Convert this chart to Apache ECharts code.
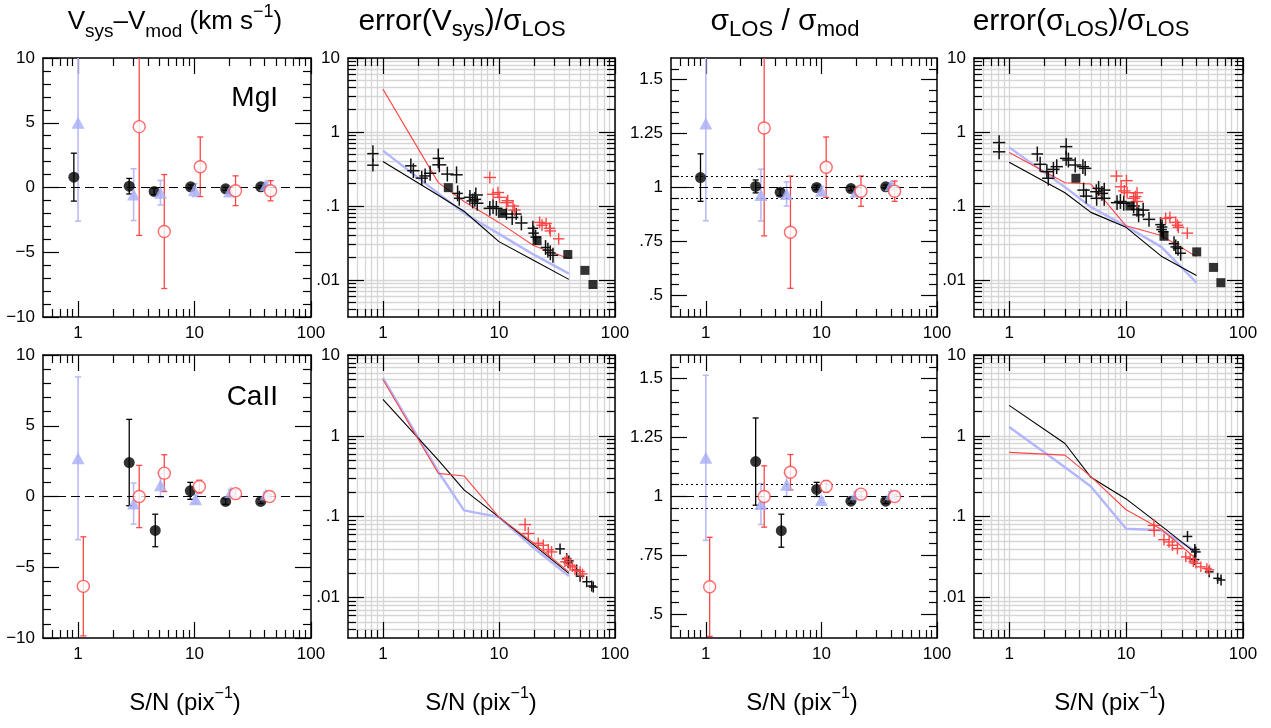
<!DOCTYPE html>
<html><head><meta charset="utf-8">
<script src="https://cdn.jsdelivr.net/npm/echarts@6/dist/echarts.min.js"></script>
<style>html,body{margin:0;padding:0;background:#fff}#c{width:1271px;height:728px}</style>
</head><body><div id="c"></div>
<script>
// ---------------- tick labels ----------------
const xTickLabels = [1, 10, 100];
const logYTickLabels = [0.01, 0.1, 1, 10];
const vsysTickLabels = [-10, -5, 0, 5, 10];
const sigTickLabels = [0.5, 0.75, 1, 1.25, 1.5];
const panelTitles = ['{n|V}{s|sys}{n|–V}{s|mod}{n| (km s}{p|−1}{n|)}', '{N|error(V}{S|sys}{N|)/σ}{S|LOS}', '{N|σ}{S|LOS}{N| / σ}{S|mod}', '{N|error(σ}{S|LOS}{N|)/σ}{S|LOS}'];
const xTitle = '{n|S/N (pix}{p|−1}{n|)}';
const lineNames = ['MgI', 'CaII'];

// ---------------- binned points: V_sys - V_mod ----------------
const mgVsysBlackSN = [0.92, 2.75, 4.5, 9.25, 18.5, 37];
const mgVsysBlackVal = [0.8, 0.1, -0.3, 0.05, -0.1, 0.05];
const mgVsysBlackErr = [1.85, 0.6, 0.25, 0.15, 0.12, 0.1];
const mgVsysBlueSN = [1.0, 3.0, 5.1, 10, 20, 41];
const mgVsysBlueVal = [5.0, -0.55, -0.4, -0.2, -0.3, 0.2];
const mgVsysBlueErr = [7.6, 2.0, 0.95, 0.5, 0.3, 0.2];
const mgVsysRedSN = [3.35, 5.5, 11.2, 22.5, 45];
const mgVsysRedVal = [4.7, -3.4, 1.6, -0.25, -0.25];
const mgVsysRedErr = [8.4, 4.4, 2.3, 1.15, 0.78];

const caVsysBlackSN = [2.75, 4.6, 9.2, 18.5, 37];
const caVsysBlackVal = [2.4, -2.4, 0.4, -0.35, -0.35];
const caVsysBlackErr = [3.05, 1.15, 0.6, 0.2, 0.15];
const caVsysBlueSN = [1.0, 3.0, 5.1, 10.2, 20.5, 41];
const caVsysBlueVal = [2.7, -0.5, 0.8, -0.2, 0.3, 0.15];
const caVsysBlueErr = [5.75, 1.45, 0.85, 0.3, 0.2, 0.15];
const caVsysRedSN = [1.11, 3.35, 5.5, 11, 22.5, 44];
const caVsysRedVal = [-6.35, 0.0, 1.65, 0.7, 0.2, 0.0];
const caVsysRedErr = [3.5, 2.2, 1.3, 0.45, 0.3, 0.15];

// ---------------- binned points: sigma_LOS / sigma_mod ----------------
const mgSigBlackSN = [0.9, 2.7, 4.4, 9.1, 18, 36];
const mgSigBlackVal = [1.046, 1.005, 0.978, 1.0, 0.995, 1.003];
const mgSigBlackErr = [0.11, 0.03, 0.015, 0.01, 0.01, 0.008];
const mgSigBlueSN = [1.0, 3.0, 5.0, 10, 20, 40];
const mgSigBlueVal = [1.296, 0.965, 0.97, 0.985, 0.98, 1.01];
const mgSigBlueErr = [0.45, 0.12, 0.056, 0.02, 0.015, 0.01];
const mgSigRedSN = [3.2, 5.4, 11, 22, 43];
const mgSigRedVal = [1.276, 0.793, 1.094, 0.983, 0.983];
const mgSigRedErr = [0.5, 0.26, 0.14, 0.07, 0.047];

const caSigBlackSN = [2.7, 4.5, 9.1, 18, 36];
const caSigBlackVal = [1.148, 0.855, 1.03, 0.98, 0.98];
const caSigBlackErr = [0.185, 0.07, 0.03, 0.01, 0.01];
const caSigBlueSN = [1.0, 3.0, 5.0, 10, 20, 40];
const caSigBlueVal = [1.164, 0.968, 1.05, 0.985, 1.01, 1.01];
const caSigBlueErr = [0.35, 0.087, 0.05, 0.01, 0.01, 0.01];
const caSigRedSN = [1.08, 3.2, 5.4, 11, 22, 43];
const caSigRedVal = [0.617, 1.0, 1.103, 1.043, 1.01, 1.0];
const caSigRedErr = [0.21, 0.13, 0.075, 0.025, 0.012, 0.008];

const vsysRefLevel = [0];
const sigRefLevel = [1];
const sigTolerance = [0.95, 1.05];

// ---------------- model curves (error / sigma) ----------------
const lineSN = [1, 3, 5, 10, 20, 40];
const mgEVsysRedLine = [3.8, 0.207, 0.115, 0.06, 0.029, 0.0195];
const mgEVsysBlueLine = [0.56, 0.148, 0.08, 0.042, 0.022, 0.0122];
const mgEVsysBlackLine = [0.40, 0.14, 0.085, 0.033, 0.0183, 0.0102];
const mgESigRedLine = [0.53, 0.206, 0.198, 0.054, 0.04, 0.0207];
const mgESigBlueLine = [0.62, 0.18, 0.097, 0.053, 0.028, 0.0092];
const mgESigBlackLine = [0.39, 0.151, 0.082, 0.0515, 0.021, 0.0115];
const caEVsysRedLine = [4.98, 0.344, 0.319, 0.099, 0.047, 0.0208];
const caEVsysBlueLine = [5.2, 0.36, 0.12, 0.099, 0.041, 0.0184];
const caEVsysBlackLine = [2.83, 0.5, 0.215, 0.099, 0.0445, 0.0199];
const caESigRedLine = [0.624, 0.578, 0.313, 0.122, 0.07, 0.03];
const caESigBlueLine = [1.29, 0.41, 0.236, 0.071, 0.068, 0.037];
const caESigBlackLine = [2.38, 0.805, 0.307, 0.166, 0.077, 0.035];

// ---------------- individual measurements (crosses: value, fractional x/y errors) ----------------
const mgEVsysBlackX = [0.82,0.82,1.74,1.83,2.16,2.31,2.55,3.0,3.06,3.59,4.31,4.4,4.55,5.62,5.93,6.32,6.5,6.2,8.34,8.9,9.5,11.6,13.0,14.1,15.6,19.6,19.9,20.7,25.2,26.4,27.7,29.2];
const mgEVsysBlackY = [0.51,0.356,0.349,0.30,0.238,0.255,0.277,0.44,0.36,0.27,0.264,0.148,0.127,0.131,0.117,0.141,0.109,0.123,0.093,0.098,0.093,0.078,0.070,0.078,0.059,0.050,0.043,0.038,0.0275,0.0253,0.0233,0.0216];
const mgEVsysBlackEX = [0.12,0.12,0.12,0.13,0.13,0.12,0.13,0.12,0.15,0.13,0.13,0.11,0.11,0.13,0.13,0.15,0.13,0.13,0.13,0.13,0.13,0.13,0.13,0.11,0.13,0.11,0.11,0.11,0.1,0.11,0.11,0.11];
const mgEVsysBlackEY = [0.3,0.22,0.26,0.26,0.26,0.26,0.26,0.36,0.26,0.26,0.3,0.28,0.26,0.26,0.26,0.26,0.26,0.26,0.26,0.26,0.26,0.2,0.26,0.2,0.26,0.26,0.26,0.26,0.26,0.26,0.26,0.26];
const mgEVsysRedX = [8.34,8.9,9.8,10.1,11.6,11.9,13.2,13.6,22.4,23.5,25.5,27.3,27.7,32.7];
const mgEVsysRedY = [0.243,0.144,0.152,0.131,0.111,0.118,0.100,0.088,0.060,0.055,0.058,0.050,0.046,0.036];
const mgEVsysRedEX = [0.13,0.13,0.13,0.13,0.13,0.13,0.13,0.13,0.12,0.12,0.12,0.12,0.12,0.12];
const mgEVsysRedEY = [0.2,0.2,0.2,0.2,0.2,0.2,0.2,0.2,0.2,0.2,0.2,0.2,0.2,0.2];
const mgEVsysSquareX = [3.66, 10.7, 21.3, 39.2, 55, 64.6];
const mgEVsysSquareY = [0.177, 0.0795, 0.034, 0.0221, 0.0135, 0.0087];

const mgESigBlackX = [0.82,0.82,1.74,1.84,2.1,2.16,2.39,2.55,3.07,3.07,3.21,3.67,4.27,4.47,4.33,4.56,5.56,5.82,6.22,6.5,5.6,6.5,8.37,8.94,9.55,11.6,12.4,12.8,14.0,15.7,19.7,20.1,20.8,20.3,25.7,26.6,27.8,29.3];
const mgESigBlackY = [0.72,0.54,0.505,0.366,0.291,0.237,0.313,0.34,0.634,0.44,0.418,0.358,0.34,0.323,0.164,0.136,0.156,0.173,0.148,0.164,0.127,0.127,0.111,0.115,0.109,0.10,0.090,0.076,0.088,0.066,0.056,0.048,0.045,0.052,0.031,0.028,0.0268,0.023];
const mgESigBlackEX = [0.13,0.13,0.12,0.13,0.13,0.13,0.13,0.13,0.13,0.13,0.13,0.13,0.13,0.13,0.13,0.13,0.13,0.13,0.13,0.13,0.13,0.13,0.13,0.13,0.13,0.13,0.13,0.13,0.13,0.13,0.11,0.11,0.11,0.11,0.11,0.11,0.11,0.11];
const mgESigBlackEY = [0.26,0.26,0.26,0.26,0.26,0.26,0.26,0.26,0.3,0.26,0.26,0.26,0.26,0.26,0.26,0.26,0.26,0.26,0.26,0.26,0.26,0.26,0.26,0.26,0.26,0.26,0.26,0.26,0.26,0.26,0.26,0.26,0.26,0.26,0.26,0.26,0.26,0.26];
const mgESigRedX = [8.27,10.07,9.06,9.65,10.2,12.4,12.0,11.6,12.4,21.8,23.7,26.6,27.5,28,33.4];
const mgESigRedY = [0.254,0.22,0.182,0.16,0.151,0.151,0.134,0.127,0.115,0.068,0.070,0.060,0.055,0.0515,0.043];
const mgESigRedEX = [0.13,0.13,0.13,0.13,0.13,0.13,0.13,0.13,0.13,0.12,0.12,0.12,0.12,0.12,0.12];
const mgESigRedEY = [0.2,0.2,0.2,0.2,0.2,0.2,0.2,0.2,0.2,0.2,0.2,0.2,0.2,0.2,0.2];
const mgESigSquareX = [3.72, 10.8, 21.1, 40.2, 56, 64.7];
const mgESigSquareY = [0.237, 0.10, 0.039, 0.024, 0.0148, 0.0092];

const caEVsysRedX = [16.8,17.9,21.8,24.1,26.6,28.4,37,38.5,41,43,45.2,50,52.5];
const caEVsysRedY = [0.080,0.062,0.047,0.0444,0.039,0.0367,0.0277,0.030,0.0252,0.024,0.0219,0.021,0.0196];
const caEVsysRedEX = [0.13,0.13,0.12,0.12,0.12,0.12,0.1,0.1,0.1,0.1,0.1,0.1,0.1];
const caEVsysRedEY = [0.2,0.2,0.18,0.18,0.18,0.18,0.16,0.16,0.16,0.16,0.16,0.16,0.16];
const caEVsysBlackX = [33.6,38.3,40,39.5,46.7,50,57,63,65];
const caEVsysBlackY = [0.040,0.0304,0.0284,0.027,0.0219,0.0184,0.0157,0.0139,0.0135];
const caEVsysBlackEX = [0.1,0.1,0.1,0.1,0.09,0.09,0.09,0.09,0.09];
const caEVsysBlackEY = [0.17,0.17,0.17,0.17,0.17,0.17,0.17,0.17,0.17];

const caESigRedX = [17.3,17.4,21.1,23.3,24.9,27.5,32.4,35.3,37.6,39.5,43.6,49.1,51.7];
const caESigRedY = [0.078,0.068,0.052,0.0487,0.0444,0.0404,0.0318,0.0304,0.0277,0.0265,0.024,0.0229,0.022];
const caESigRedEX = [0.13,0.13,0.12,0.12,0.12,0.12,0.1,0.1,0.1,0.1,0.1,0.1,0.1];
const caESigRedEY = [0.2,0.2,0.18,0.18,0.18,0.18,0.16,0.16,0.16,0.16,0.16,0.16,0.16];
const caESigBlackX = [33.5,38.7,39.5,38.5,51.4,60.7,64.9];
const caESigBlackY = [0.057,0.0393,0.0367,0.0295,0.0208,0.0173,0.0165];
const caESigBlackEX = [0.1,0.1,0.1,0.1,0.09,0.09,0.09];
const caESigBlackEY = [0.17,0.17,0.17,0.17,0.17,0.17,0.17];

// ---------------- styling / layout ----------------
const FONT = '"Liberation Sans", Arial, Helvetica, sans-serif';
const RED = '#ff4646', BLUE_PT = '#a9aef6', BLUE_LINE = '#b3b6fc', BLUE_ERR = '#b8bcf6', GRIDC = '#d6d6d6';
const rowsL = [{ top: 58, height: 259 }, { top: 355, height: 283 }];
const colsL = [{ left: 43, width: 268 }, { left: 348, width: 267 }, { left: 671, width: 266 }, { left: 974, width: 269 }];
const titleCenters = [175, 462, 785, 1081];
const xTitleCenters = [185, 481, 802, 1110];

const L = Math.log10;
const X_MIN = L(0.5), X_MAX = 2, LY_MIN = -2.5, LY_MAX = 1;

function fmtNum(n) {
  n = Number(Number(n).toPrecision(6));
  let s = String(Math.abs(n));
  if (s.indexOf('0.') === 0) s = s.slice(1);
  return (n < 0 ? '\u2212' : '') + s;
}
function logMinors(lo, hi) {
  const out = [];
  for (let e = -4; e <= 3; e++) for (let m = 2; m <= 9; m++) {
    const lv = L(m * Math.pow(10, e));
    if (lv > lo + 1e-9 && lv < hi - 1e-9) out.push(lv);
  }
  return out;
}
const xMajor = xTickLabels.map(L), xMinor = logMinors(X_MIN, X_MAX);
const lyMajor = logYTickLabels.map(L), lyMinor = logMinors(LY_MIN, LY_MAX);
const vMinor = []; for (let k = -9; k <= 9; k++) if (k % 5 !== 0) vMinor.push(k);
const sMinor = []; for (let k = 9; k <= 31; k++) if (k % 5 !== 0) sMinor.push(+(k * 0.05).toFixed(2));

const option = { animation: false, backgroundColor: '#fff', grid: [], xAxis: [], yAxis: [], series: [], graphic: [] };

function addAxes(list, dim, gi, min, max, major, minor, labels, fmt, grid) {
  const base = list.length;
  const posMain = dim === 'x' ? 'bottom' : 'left', posOpp = dim === 'x' ? 'top' : 'right';
  const mk = (pos, ticks, len, showLine, lab, split) => ({
    type: 'value', gridIndex: gi, min: min, max: max, position: pos,
    axisLine: { show: showLine, onZero: false, lineStyle: { color: '#000', width: 1.5 } },
    axisTick: { show: true, inside: true, length: len, customValues: ticks, lineStyle: { color: '#000', width: 1.2 } },
    axisLabel: lab ? { show: true, customValues: lab, formatter: fmt, color: '#000', fontSize: 17, fontFamily: FONT, margin: 8 } : { show: false },
    splitLine: { show: !!split, lineStyle: { color: GRIDC, width: 1.3 } },
    minorTick: { show: false }, minorSplitLine: { show: false }, splitArea: { show: false }
  });
  list.push(mk(posMain, major, 16, true, labels, grid));
  list.push(mk(posMain, minor, 8, false, null, grid));
  list.push(mk(posOpp, major, 16, true, null, false));
  list.push(mk(posOpp, minor, 8, false, null, false));
  return base;
}

function errRender(color, lw, cap) {
  return function (params, api) {
    const cs = params.coordSys;
    const top = cs.y, bot = cs.y + cs.height, left = cs.x, right = cs.x + cs.width;
    const cl = (v, a, b) => Math.max(a, Math.min(b, v));
    const x = api.value(0), y = api.value(1);
    const c = api.coord([x, y]);
    const yl = api.coord([x, api.value(4)])[1], yh = api.coord([x, api.value(5)])[1];
    const st = { stroke: color, lineWidth: lw, fill: null };
    const ch = [];
    const y1 = cl(yl, top, bot), y2 = cl(yh, top, bot);
    if (Math.abs(y1 - y2) > 0.5) ch.push({ type: 'line', shape: { x1: c[0], y1: y1, x2: c[0], y2: y2 }, style: st });
    if (cap > 0) {
      [yl, yh].forEach(py => { if (py >= top && py <= bot) ch.push({ type: 'line', shape: { x1: c[0] - cap, y1: py, x2: c[0] + cap, y2: py }, style: st }); });
    }
    if (api.value(3) > api.value(2)) {
      const xl = cl(api.coord([api.value(2), y])[0], left, right), xh = cl(api.coord([api.value(3), y])[0], left, right);
      ch.push({ type: 'line', shape: { x1: xl, y1: c[1], x2: xh, y2: c[1] }, style: st });
    }
    return { type: 'group', children: ch };
  };
}
function vbarData(sn, val, err) { return sn.map((s, i) => [L(s), val[i], L(s), L(s), val[i] - err[i], val[i] + err[i]]); }
function crossData(sn, val, ex, ey) { return sn.map((s, i) => [L(s), L(val[i]), L(s) - L(1 + ex[i]), L(s) + L(1 + ex[i]), L(val[i]) - L(1 + ey[i]), L(val[i]) + L(1 + ey[i])]); }
function ptData(sn, val, logY) { return sn.map((s, i) => [L(s), logY ? L(val[i]) : val[i]]); }

function errSeries(ax, data, color, lw, cap, z) {
  return { type: 'custom', xAxisIndex: ax[0], yAxisIndex: ax[1], data: data, z: z, silent: true, clip: false,
    dimensions: ['x', 'y', 'xl', 'xh', 'yl', 'yh'], encode: { x: 0, y: 1 }, renderItem: errRender(color, lw, cap) };
}
function ptSeries(ax, data, symbol, size, itemStyle, z) {
  return { type: 'scatter', xAxisIndex: ax[0], yAxisIndex: ax[1], data: data, symbol: symbol, symbolSize: size, itemStyle: itemStyle, z: z, silent: true };
}
function lineSeries(ax, vals, color, width, z) {
  return { type: 'line', xAxisIndex: ax[0], yAxisIndex: ax[1], data: lineSN.map((s, i) => [L(s), L(vals[i])]),
    showSymbol: false, symbol: 'none', lineStyle: { color: color, width: width }, itemStyle: { color: color }, z: z, silent: true };
}
function refSeries(ax, levels, dash, z) {
  return { type: 'line', xAxisIndex: ax[0], yAxisIndex: ax[1], data: [], silent: true, z: z,
    markLine: { silent: true, symbol: ['none', 'none'], label: { show: false }, animation: false,
      lineStyle: { color: '#000', width: 1.2, type: dash }, data: levels.map(v => ({ yAxis: v })) } };
}

// build grids + axes
const axIdx = [];
for (let r = 0; r < 2; r++) for (let c = 0; c < 4; c++) {
  const gi = r * 4 + c;
  option.grid.push({ left: colsL[c].left, top: rowsL[r].top, width: colsL[c].width, height: rowsL[r].height, containLabel: false, outerBoundsMode: 'none' });
  const isLog = (c === 1 || c === 3);
  const xi = addAxes(option.xAxis, 'x', gi, X_MIN, X_MAX, xMajor, xMinor, xMajor, v => fmtNum(Math.pow(10, v)), isLog);
  let yi;
  if (c === 0) yi = addAxes(option.yAxis, 'y', gi, -10, 10, vsysTickLabels, vMinor, vsysTickLabels, v => fmtNum(v), false);
  else if (c === 2) yi = addAxes(option.yAxis, 'y', gi, 0.4, 1.6, sigTickLabels, sMinor, sigTickLabels, v => fmtNum(v), false);
  else yi = addAxes(option.yAxis, 'y', gi, LY_MIN, LY_MAX, lyMajor, lyMinor, lyMajor, v => fmtNum(Math.pow(10, v)), true);
  axIdx.push([xi, yi]);
}

const S = option.series;
const blackDot = { color: '#000' };
const blueTri = { color: BLUE_PT };
const redRing = { color: '#fff', borderColor: RED, borderWidth: 1.4 };

function linearPanel(ax, refs, dotted, bk, bl, rd) {
  S.push(refSeries(ax, refs, [9, 5], 1));
  if (dotted) S.push(refSeries(ax, dotted, [2, 3], 1));
  S.push(errSeries(ax, vbarData(bk[0], bk[1], bk[2]), '#000', 1.3, 3, 2));
  S.push(errSeries(ax, vbarData(bl[0], bl[1], bl[2]), BLUE_ERR, 1.6, 3, 2));
  S.push(errSeries(ax, vbarData(rd[0], rd[1], rd[2]), RED, 1.3, 3, 2));
  S.push(ptSeries(ax, ptData(bk[0], bk[1]), 'circle', 11, blackDot, 4));
  S.push(ptSeries(ax, ptData(bl[0], bl[1]), 'triangle', [13, 12], blueTri, 5));
  S.push(ptSeries(ax, ptData(rd[0], rd[1]), 'circle', 12, redRing, 6));
}
function logPanel(ax, lines, bkc, rdc, sq) {
  S.push(lineSeries(ax, lines[1], BLUE_LINE, 2.4, 3));
  S.push(lineSeries(ax, lines[2], '#000', 1.1, 3));
  S.push(lineSeries(ax, lines[0], RED, 1.1, 3));
  S.push(errSeries(ax, crossData(bkc[0], bkc[1], bkc[2], bkc[3]), '#111', 1.5, 0, 4));
  S.push(errSeries(ax, crossData(rdc[0], rdc[1], rdc[2], rdc[3]), RED, 1.4, 0, 4));
  if (sq) S.push(ptSeries(ax, ptData(sq[0], sq[1], true), 'rect', 9, blackDot, 5));
}

linearPanel(axIdx[0], vsysRefLevel, null,
  [mgVsysBlackSN, mgVsysBlackVal, mgVsysBlackErr], [mgVsysBlueSN, mgVsysBlueVal, mgVsysBlueErr], [mgVsysRedSN, mgVsysRedVal, mgVsysRedErr]);
logPanel(axIdx[1], [mgEVsysRedLine, mgEVsysBlueLine, mgEVsysBlackLine],
  [mgEVsysBlackX, mgEVsysBlackY, mgEVsysBlackEX, mgEVsysBlackEY], [mgEVsysRedX, mgEVsysRedY, mgEVsysRedEX, mgEVsysRedEY], [mgEVsysSquareX, mgEVsysSquareY]);
linearPanel(axIdx[2], sigRefLevel, sigTolerance,
  [mgSigBlackSN, mgSigBlackVal, mgSigBlackErr], [mgSigBlueSN, mgSigBlueVal, mgSigBlueErr], [mgSigRedSN, mgSigRedVal, mgSigRedErr]);
logPanel(axIdx[3], [mgESigRedLine, mgESigBlueLine, mgESigBlackLine],
  [mgESigBlackX, mgESigBlackY, mgESigBlackEX, mgESigBlackEY], [mgESigRedX, mgESigRedY, mgESigRedEX, mgESigRedEY], [mgESigSquareX, mgESigSquareY]);
linearPanel(axIdx[4], vsysRefLevel, null,
  [caVsysBlackSN, caVsysBlackVal, caVsysBlackErr], [caVsysBlueSN, caVsysBlueVal, caVsysBlueErr], [caVsysRedSN, caVsysRedVal, caVsysRedErr]);
logPanel(axIdx[5], [caEVsysRedLine, caEVsysBlueLine, caEVsysBlackLine],
  [caEVsysBlackX, caEVsysBlackY, caEVsysBlackEX, caEVsysBlackEY], [caEVsysRedX, caEVsysRedY, caEVsysRedEX, caEVsysRedEY], null);
linearPanel(axIdx[6], sigRefLevel, sigTolerance,
  [caSigBlackSN, caSigBlackVal, caSigBlackErr], [caSigBlueSN, caSigBlueVal, caSigBlueErr], [caSigRedSN, caSigRedVal, caSigRedErr]);
logPanel(axIdx[7], [caESigRedLine, caESigBlueLine, caESigBlackLine],
  [caESigBlackX, caESigBlackY, caESigBlackEX, caESigBlackEY], [caESigRedX, caESigRedY, caESigRedEX, caESigRedEY], null);

// texts
const richTitle = {
  n: { fontSize: 26, fontFamily: FONT, lineHeight: 38, color: '#000' },
  s: { fontSize: 19, fontFamily: FONT, lineHeight: 19, verticalAlign: 'bottom', color: '#000' },
  p: { fontSize: 18, fontFamily: FONT, lineHeight: 24, verticalAlign: 'top', color: '#000' },
  N: { fontSize: 30, fontFamily: FONT, lineHeight: 38, color: '#000' },
  S: { fontSize: 22, fontFamily: FONT, lineHeight: 20, verticalAlign: 'bottom', color: '#000' }
};
const richX = {
  n: { fontSize: 24, fontFamily: FONT, lineHeight: 34, color: '#000' },
  p: { fontSize: 16, fontFamily: FONT, lineHeight: 20, verticalAlign: 'top', color: '#000' }
};
panelTitles.forEach((t, i) => option.graphic.push({ type: 'text', silent: true, style: { x: titleCenters[i], y: 22, text: t, rich: richTitle, align: 'center', verticalAlign: 'middle', fill: '#000', fontFamily: FONT } }));
xTitleCenters.forEach(cx => option.graphic.push({ type: 'text', silent: true, style: { x: cx, y: 703, text: xTitle, rich: richX, align: 'center', verticalAlign: 'middle', fill: '#000', fontFamily: FONT } }));
option.graphic.push({ type: 'text', silent: true, style: { x: 278, y: 98, text: lineNames[0], align: 'right', verticalAlign: 'middle', fontSize: 28, fontFamily: FONT, fill: '#000' } });
option.graphic.push({ type: 'text', silent: true, style: { x: 278, y: 397, text: lineNames[1], align: 'right', verticalAlign: 'middle', fontSize: 28, fontFamily: FONT, fill: '#000' } });

const chart = echarts.init(document.getElementById('c'), null, { renderer: 'canvas' });
chart.setOption(option);
</script>
</body></html>
